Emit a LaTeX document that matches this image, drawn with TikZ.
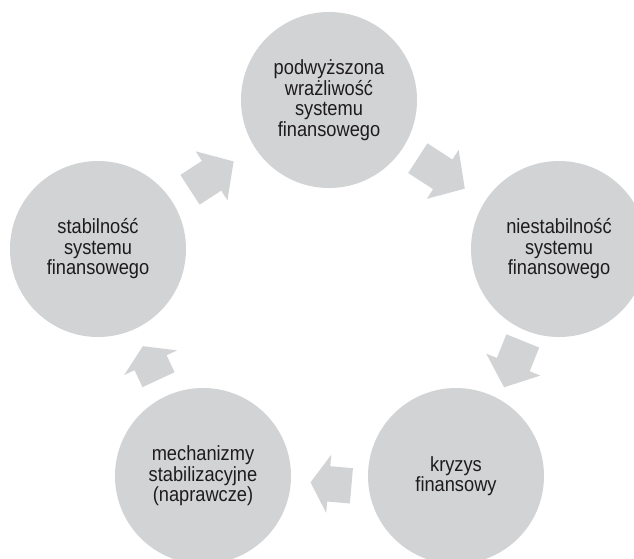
\documentclass[tikz,border=0pt]{standalone}
\usepackage{fontspec}
\setmainfont{Liberation Sans}[FakeStretch=0.89]
\usetikzlibrary{shapes.arrows,calc}

\definecolor{kolo}{RGB}{209,211,212}
\definecolor{napis}{RGB}{30,27,28}

\tikzset{
  etap/.style={circle, fill=kolo, minimum size=176pt, inner sep=0pt,
    align=center, text=napis, font=\fontsize{20.5}{20.5}\selectfont},
  strzalka/.style={single arrow, fill=kolo, inner xsep=0pt, inner ysep=17.5pt,
    single arrow head extend=11.5pt}
}

\begin{document}
\begin{tikzpicture}[x=1pt, y=-1pt]
                % Frame of the picture:
                \useasboundingbox (0,0) rectangle (634,558);
                % Stages of the cycle:
                \node[etap] (wraz) at (329,100) {podwyższona\\wrażliwość\\systemu\\finansowego};
                \node[etap] (niest) at (559,249) {niestabilność\\systemu\\finansowego};
                \node[etap] (kryz) at (456,476) {kryzys\\finansowy};
                \node[etap] (mech) at (203,476) {mechanizmy\\stabilizacyjne\\(naprawcze)};
                \node[etap] (stab) at (98,249) {stabilność\\systemu\\finansowego};
                % Block arrows between the stages:
                \node[strzalka, minimum height=52pt, single arrow tip angle=96, rotate=33, xshift=-10pt] (s1) at ($(stab)!.5!(wraz)$) {};
                \node[strzalka, minimum height=56pt, single arrow tip angle=96, rotate=-33, xshift=-10pt] (s2) at ($(wraz)!.5!(niest)+(-1,0)$) {};
                \node[strzalka, minimum height=50pt, single arrow tip angle=100, rotate=-112, xshift=-10pt] (s3) at ($(niest)!.5!(kryz)+(5,4)$) {};
                \node[strzalka, minimum height=41pt, single arrow tip angle=116, rotate=175, xshift=-6pt] (s4) at ($(kryz)!.5!(mech)+(1,8)$) {};
                \node[strzalka, minimum height=37pt, single arrow tip angle=116, rotate=115, xshift=-6pt] (s5) at ($(mech)!.5!(stab)$) {};
            \end{tikzpicture}
\end{document}
